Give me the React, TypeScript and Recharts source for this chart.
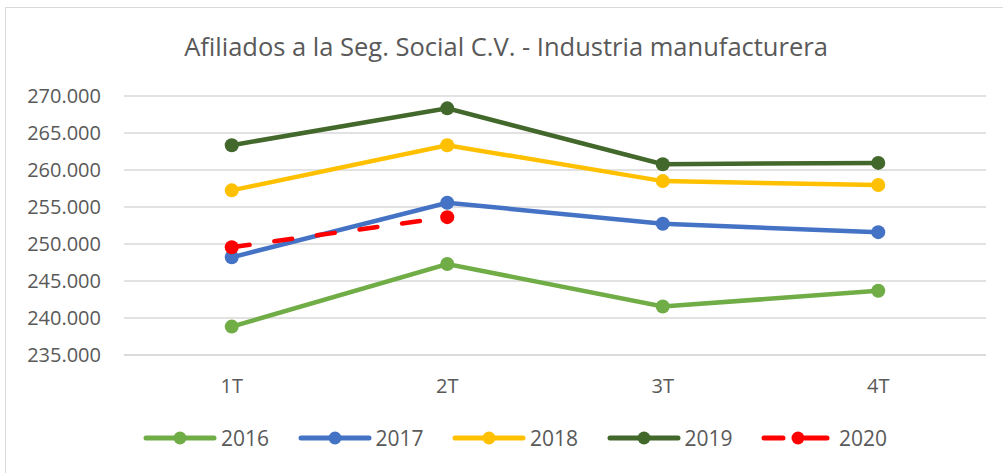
import React from "react";
import { LineChart, Line, XAxis, YAxis, CartesianGrid, Legend } from "recharts";

const categories = ["1T", "2T", "3T", "4T"];
const s2016 = [238840, 247300, 241550, 243680];
const s2017 = [248200, 255580, 252730, 251600];
const s2018 = [257250, 263350, 258500, 257970];
const s2019 = [263350, 268330, 260780, 260960];
const s2020: (number | null)[] = [249560, 253630, null, null];
const yTicks = [235000, 240000, 245000, 250000, 255000, 260000, 265000, 270000];
const title = "Afiliados a la Seg. Social C.V. - Industria manufacturera";

const series = [
  { key: "2016", values: s2016, color: "#70AD47", dash: undefined as string | undefined },
  { key: "2017", values: s2017, color: "#4472C4", dash: undefined },
  { key: "2018", values: s2018, color: "#FFC000", dash: undefined },
  { key: "2019", values: s2019, color: "#43682B", dash: undefined },
  { key: "2020", values: s2020, color: "#FF0000", dash: "18 25" },
];

const data = categories.map((c, i) => {
  const row: Record<string, any> = { cat: c };
  series.forEach((s) => (row[s.key] = s.values[i]));
  return row;
});

const FONT = "'Open Sans', sans-serif";
const TXT = "#595959";

const fmt = (v: number) => {
  const s = String(Math.round(v));
  return s.replace(/\B(?=(\d{3})+(?!\d))/g, ".");
};

const renderLegend = () => (
  <div style={{ position: "relative", width: 1000, height: 30 }}>
    {series.map((s, i) => (
      <div
        key={s.key}
        style={{
          position: "absolute",
          left: 137 + i * 154.5,
          top: 0,
          display: "flex",
          alignItems: "center",
          height: 30,
        }}
      >
        <svg width={74} height={20} style={{ display: "block" }}>
          {s.dash ? (
            <>
              <line x1={3} y1={10} x2={22} y2={10} stroke={s.color} strokeWidth={5} strokeLinecap="round" />
              <line x1={44} y1={10} x2={66} y2={10} stroke={s.color} strokeWidth={5} strokeLinecap="round" />
            </>
          ) : (
            <line x1={3} y1={10} x2={71} y2={10} stroke={s.color} strokeWidth={5} strokeLinecap="round" />
          )}
          <circle cx={37} cy={10} r={6.5} fill={s.color} />
        </svg>
        <span style={{ marginLeft: s.dash ? 4 : 4, fontFamily: FONT, fontSize: 21, color: TXT, lineHeight: "30px" }}>
          {s.key}
        </span>
      </div>
    ))}
  </div>
);

export default function App() {
  return (
    <div
      style={{
        position: "absolute",
        left: 5,
        top: 7,
        width: 1000,
        height: 470,
        border: "1px solid #D9D9D9",
        boxSizing: "border-box",
        background: "#fff",
      }}
    >
      <div
        style={{
          position: "absolute",
          left: 0,
          top: 22,
          width: 1000,
          textAlign: "center",
          fontFamily: FONT,
          fontSize: 25.5,
          color: TXT,
          lineHeight: "32px",
        }}
      >
        {title}
      </div>
      <div style={{ position: "absolute", left: 0, top: 0 }}>
        <LineChart
          width={1000}
          height={470}
          data={data}
          margin={{ top: 88, right: 20, left: 0, bottom: 41 }}
        >
          <CartesianGrid vertical={false} stroke="#D9D9D9" strokeWidth={1.4} />
          <XAxis
            dataKey="cat"
            padding={{ left: 107.75, right: 107.75 }}
            tickLine={false}
            axisLine={{ stroke: "#D9D9D9", strokeWidth: 1.4 }}
            tick={{ fill: TXT, fontSize: 20, fontFamily: FONT }}
            tickMargin={18}
            height={52}
          />
          <YAxis
            domain={[235000, 270000]}
            ticks={yTicks}
            tickFormatter={fmt}
            axisLine={false}
            tickLine={false}
            tickMargin={17}
            width={118}
            tick={{ fill: TXT, fontSize: 20, fontFamily: FONT }}
            interval={0}
          />
          <Legend verticalAlign="bottom" align="left" content={renderLegend} wrapperStyle={{ left: 0, bottom: 25 }} />
          {series.map((s) => (
            <Line
              key={s.key}
              dataKey={s.key}
              stroke={s.color}
              strokeWidth={4.5}
              strokeDasharray={s.dash}
              strokeLinecap="round"
              dot={{ r: 7, fill: s.color, stroke: s.color, strokeWidth: 0, strokeDasharray: "" }}
              activeDot={false}
              isAnimationActive={false}
              connectNulls={false}
            />
          ))}
        </LineChart>
      </div>
    </div>
  );
}
